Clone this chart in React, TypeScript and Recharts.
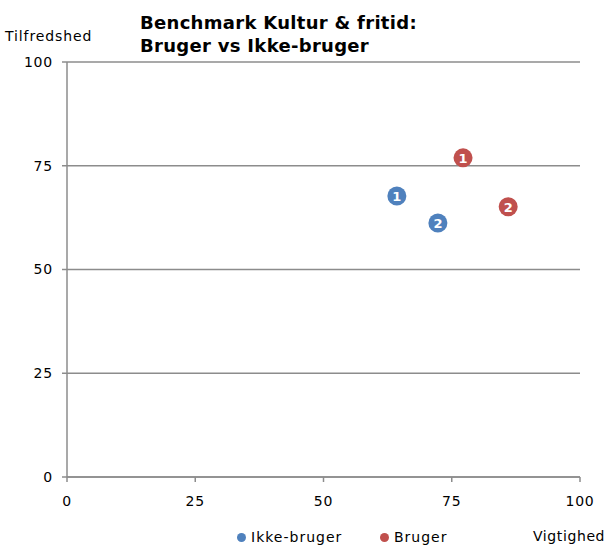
import React from "react";
import {
  ScatterChart,
  Scatter,
  XAxis,
  YAxis,
  CartesianGrid,
} from "recharts";

const ikkeVigtighed = [64.3, 72.3];
const ikkeTilfredshed = [67.7, 61.2];
const brugerVigtighed = [77.2, 86.0];
const brugerTilfredshed = [76.9, 65.1];
const pointLabels = ["1", "2"];
const axisTicks = [0, 25, 50, 75, 100];

const BLUE = "#4f81bd";
const RED = "#c0504d";
const FONT = "'DejaVu Sans', Verdana, sans-serif";

const ikke = ikkeVigtighed.map((x, i) => ({ x, y: ikkeTilfredshed[i], label: pointLabels[i] }));
const bruger = brugerVigtighed.map((x, i) => ({ x, y: brugerTilfredshed[i], label: pointLabels[i] }));

const makeDot = (color: string) => (props: any) => {
  const { cx, cy, payload } = props;
  return (
    <g>
      <circle cx={cx} cy={cy} r={9.5} fill={color} />
      <text
        x={cx}
        y={cy + 5}
        textAnchor="middle"
        fill="#fff"
        fontSize={13}
        fontWeight="bold"
        fontFamily={FONT}
      >
        {payload.label}
      </text>
    </g>
  );
};

const tickStyle = { fill: "#000", fontSize: 14, fontFamily: FONT, letterSpacing: 0.8 };

const legendItems = [
  { name: "Ikke-bruger", color: BLUE, left: 237 },
  { name: "Bruger", color: RED, left: 380 },
];

export default function App() {
  return (
    <div style={{ position: "relative", width: 609, height: 545, background: "#fff", fontFamily: FONT }}>
      <style>{"body{margin:0}"}</style>
      <div style={{ position: "absolute", left: 140, top: 11, fontSize: 18, fontWeight: "bold", lineHeight: "23px", color: "#000", letterSpacing: 0.3 }}>
        Benchmark Kultur &amp; fritid:
        <br />
        Bruger vs Ikke-bruger
      </div>
      <div style={{ position: "absolute", left: 5, top: 28, fontSize: 14, letterSpacing: 0.9, color: "#000" }}>
        Tilfredshed
      </div>
      <div style={{ position: "absolute", left: 533, top: 528, fontSize: 14, letterSpacing: 0.6, color: "#000" }}>
        Vigtighed
      </div>
      {legendItems.map((it) => (
        <div key={it.name} style={{ position: "absolute", left: it.left, top: 529, fontSize: 14, letterSpacing: 1, color: "#000", display: "flex", alignItems: "center" }}>
          <span style={{ display: "inline-block", width: 9, height: 9, borderRadius: "50%", background: it.color, marginRight: 5 }} />
          {it.name}
        </div>
      ))}
      <ScatterChart width={609} height={545} margin={{ top: 62, right: 29, left: 27, bottom: 38 }}>
        <CartesianGrid horizontal vertical={false} stroke="#8c8c8c" strokeWidth={1.5} />
        <XAxis
          type="number"
          dataKey="x"
          domain={[0, 100]}
          ticks={axisTicks}
          height={30}
          stroke="#8c8c8c"
          strokeWidth={1.5}
          tickSize={5}
          tickMargin={14}
          tick={tickStyle}
        />
        <YAxis
          type="number"
          dataKey="y"
          domain={[0, 100]}
          ticks={axisTicks}
          width={40}
          stroke="#8c8c8c"
          strokeWidth={1.5}
          tickSize={5}
          tickMargin={9}
          tick={tickStyle}
        />
        <Scatter name="Ikke-bruger" data={ikke} fill={BLUE} shape={makeDot(BLUE)} isAnimationActive={false} />
        <Scatter name="Bruger" data={bruger} fill={RED} shape={makeDot(RED)} isAnimationActive={false} />
      </ScatterChart>
    </div>
  );
}
